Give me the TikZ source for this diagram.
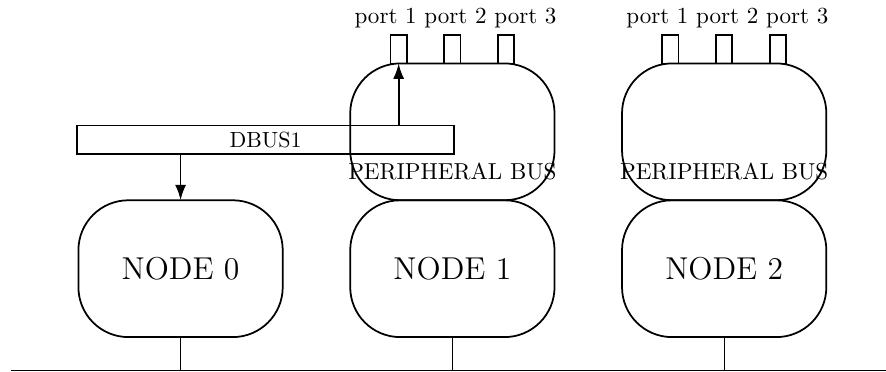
\documentclass[tikz,border=0pt]{standalone}
\usetikzlibrary{positioning,arrows.meta}
\begin{document}
\begin{tikzpicture}[
  nodebox/.style={draw,thick,rounded corners=0.8cm,minimum width=3.27cm,minimum height=2.19cm,inner sep=0pt,outer sep=0pt,font=\Large},
  portbox/.style={draw,thick,minimum width=0.26cm,minimum height=0.45cm,inner sep=0pt,outer sep=0pt},
  busbar/.style={draw,thick,minimum width=6.03cm,minimum height=0.46cm,inner sep=0pt,outer sep=0pt},
  busname/.style={font=\fontsize{10.5pt}{12pt}\selectfont},
  link/.style={thick,-{Latex[length=7pt,width=5pt]}}
]
  \useasboundingbox (0.0,0.0) rectangle (14.18,5.94);
  % nodes on the main bus
  \node[nodebox] (node0) at (2.89,1.64) {NODE 0};
  \node[nodebox] (node1) at (7.24,1.64) {NODE 1};
  \node[nodebox] (node2) at (11.59,1.64) {NODE 2};
  \coordinate (busL) at (0.17,0.01);
  \coordinate (busR) at (14.18,0.01);
  \draw (busL) -- (busR);
  \draw (node0.south) -- (node0.south |- busL);
  \draw (node1.south) -- (node1.south |- busL);
  \draw (node2.south) -- (node2.south |- busL);
  % peripheral buses
  \node[nodebox,above=0pt of node1] (pbus1) {};
  \node[nodebox,above=0pt of node2] (pbus2) {};
  \node[busname,above=5.5pt of pbus1.south] (pbus1text) {PERIPHERAL BUS};
  \node[busname,above=5.5pt of pbus2.south] (pbus2text) {PERIPHERAL BUS};
  \node[portbox,above=0pt of pbus1.north,xshift=-0.86cm] (port11) {};
  \node[portbox,above=0pt of pbus1.north] (port12) {};
  \node[portbox,above=0pt of pbus1.north,xshift=0.86cm] (port13) {};
  \node[portbox,above=0pt of pbus2.north,xshift=-0.86cm] (port21) {};
  \node[portbox,above=0pt of pbus2.north] (port22) {};
  \node[portbox,above=0pt of pbus2.north,xshift=0.86cm] (port23) {};
  \node[busname,above=0pt of port12.north,xshift=0.05cm] (ports1) {port 1 port 2 port 3};
  \node[busname,above=0pt of port22.north,xshift=0.05cm] (ports2) {port 1 port 2 port 3};
  % data bus
  \node[busbar] (dbus) at (4.25,3.70) {DBUS1};
  \draw[link] (node0.north |- dbus.south) -- (node0.north);
  \draw[link] (port11.south |- dbus.north) -- (port11.south);
\end{tikzpicture}
\end{document}
